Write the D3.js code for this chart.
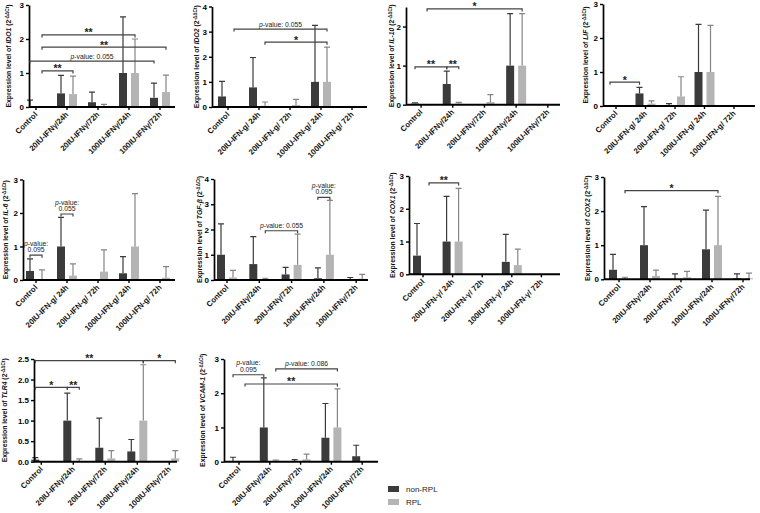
<!DOCTYPE html>
<html>
<head>
<meta charset="utf-8">
<title>Expression levels RPL vs non-RPL</title>
<style>
  body { margin: 0; background: #fff; }
  text { font-family: "Liberation Sans", Arial, sans-serif; }
</style>
</head>
<body>
<div id="chart"></div>
<script src="https://d3js.org/d3.v7.min.js"></script>
<script>
// categories
const groupsA = ["Control", "20IU-IFNγ/24h", "20IU-IFNγ/72h", "100IU-IFNγ/24h", "100IU-IFNγ/72h"];
const groupsB = ["Control", "20IU-IFN-g/ 24h", "20IU-IFN-g/ 72h", "100IU-IFN-g/ 24h", "100IU-IFN-g/ 72h"];
const groupsC = ["Control", "20IU-IFN-γ/ 24h", "20IU-IFN-γ/ 72h", "100IU-IFN-γ/ 24h", "100IU-IFN-γ/ 72h"];
const seriesNames = ["non-RPL", "RPL"];

// tick values
const ticks0to3 = [0, 1, 2, 3];
const ticks0to4 = [0, 1, 2, 3, 4];
const ticks0to2 = [0, 1, 2];
const ticksTlr4 = [0, 0.5, 1.0, 1.5, 2.0, 2.5];

// means and upper error (SD) per gene, null = not drawn
const ido1NonRpl = [0, 0.40, 0.14, 1.0, 0.27];
const ido1Rpl = [0, 0.38, 0.02, 1.0, 0.44];
const ido1NonRplErr = [0.20, 0.53, 0.30, 1.65, 0.43];
const ido1RplErr = [null, 0.53, 0.06, 1.0, 0.50];

const ido2NonRpl = [0.42, 0.78, null, 1.0, null];
const ido2Rpl = [null, 0.05, 0.08, 1.0, null];
const ido2NonRplErr = [0.60, 1.19, null, 2.25, null];
const ido2RplErr = [null, 0.15, 0.22, 1.38, null];

const il10NonRpl = [0.03, 0.53, null, 1.0, null];
const il10Rpl = [null, 0.03, 0.07, 1.0, null];
const il10NonRplErr = [0.02, 0.33, null, 1.33, null];
const il10RplErr = [null, 0.03, 0.19, 1.33, null];

const lifNonRpl = [0.01, 0.37, 0.03, 1.0, null];
const lifRpl = [0.01, 0.07, 0.28, 1.0, null];
const lifNonRplErr = [null, 0.18, 0.04, 1.40, null];
const lifRplErr = [null, 0.08, 0.58, 1.37, null];

const il6NonRpl = [0.27, 1.0, 0.01, 0.20, 0.02];
const il6Rpl = [0, 0.13, 0.25, 1.0, 0.07];
const il6NonRplErr = [0.36, 0.87, null, 0.50, null];
const il6RplErr = [0.30, 0.35, 0.65, 1.58, 0.33];

const tgfbNonRpl = [1.0, 0.63, 0.22, 0.07, 0];
const tgfbRpl = [0.10, 0, 0.60, 1.0, 0.05];
const tgfbNonRplErr = [1.22, 1.09, 0.28, 0.41, 0.10];
const tgfbRplErr = [0.28, 0.07, 1.22, 2.15, 0.17];

const cox1NonRpl = [0.57, 1.0, null, 0.38, null];
const cox1Rpl = [null, 1.0, 0.01, 0.28, 0.01];
const cox1NonRplErr = [0.98, 1.38, null, 0.84, null];
const cox1RplErr = [null, 1.62, null, 0.49, null];

const cox2NonRpl = [0.28, 1.0, 0, 0.88, 0.03];
const cox2Rpl = [0, 0.10, 0.06, 1.0, 0.03];
const cox2NonRplErr = [0.45, 1.13, 0.16, 1.15, 0.13];
const cox2RplErr = [0.06, 0.17, 0.17, 1.43, 0.15];

const tlr4NonRpl = [0.05, 1.0, 0.34, 0.25, 0.01];
const tlr4Rpl = [null, 0.02, 0.08, 1.0, 0.08];
const tlr4NonRplErr = [0.05, 0.67, 0.72, 0.29, null];
const tlr4RplErr = [null, 0.05, 0.19, 1.36, 0.19];

const vcamNonRpl = [0, 1.0, 0.01, 0.70, 0.16];
const vcamRpl = [null, 0.03, 0.07, 1.0, 0.02];
const vcamNonRplErr = [0.13, 1.45, 0.05, 1.0, 0.32];
const vcamRplErr = [null, 0.02, 0.15, 1.13, null];

// significance brackets: [group, series] -> [group, series], level in y units
const ido1Sig = [
  {a: [0, 1], b: [3, 1], level: 2.12, text: ["**"]},
  {a: [0, 1], b: [4, 1], level: 1.76, text: ["**"]},
  {a: [0, 0], b: [4, 0], level: 1.35, text: ["p-value: 0.055"]},
  {a: [0, 1], b: [1, 1], level: 1.06, text: ["**"]}
];
const ido2Sig = [
  {a: [0, 1], b: [3, 1], level: 3.1, text: ["p-value: 0.055"]},
  {a: [1, 1], b: [3, 1], level: 2.58, text: ["*"]}
];
const il10Sig = [
  {a: [0, 1], b: [3, 1], level: 2.45, text: ["*"]},
  {a: [0, 0], b: [1, 0], level: 0.97, text: ["**"]},
  {a: [1, 0], b: [1, 1], level: 0.97, text: ["**"]}
];
const lifSig = [
  {a: [0, 0], b: [1, 0], level: 0.70, text: ["*"]}
];
const il6Sig = [
  {a: [0, 0], b: [0, 1], level: 0.74, text: ["p-value:", "0.095"]},
  {a: [1, 0], b: [1, 1], level: 1.97, text: ["p-value:", "0.055"]}
];
const tgfbSig = [
  {a: [1, 1], b: [2, 1], level: 1.95, text: ["p-value: 0.055"]},
  {a: [3, 0], b: [3, 1], level: 3.27, text: ["p-value:", "0.095"]}
];
const cox1Sig = [
  {a: [0, 1], b: [1, 1], level: 2.79, text: ["**"]}
];
const cox2Sig = [
  {a: [0, 1], b: [3, 1], level: 2.6, text: ["*"]}
];
const tlr4Sig = [
  {a: [0, 0], b: [3, 1], level: 2.46, text: ["**"]},
  {a: [3, 1], b: [4, 1], level: 2.46, text: ["*"]},
  {a: [0, 0], b: [1, 0], level: 1.81, text: ["*"]},
  {a: [1, 0], b: [1, 1], level: 1.81, text: ["**"]}
];
const vcamSig = [
  {a: [0, 0], b: [1, 0], level: 2.54, text: ["p-value:", "0.095"]},
  {a: [1, 1], b: [3, 1], level: 2.71, text: ["p-value: 0.086"]},
  {a: [0, 1], b: [3, 1], level: 2.27, text: ["**"]}
];

const colors = {"non-RPL": "#3b3b3b", "RPL": "#b4b4b4"};
const errColors = {"non-RPL": "#3b3b3b", "RPL": "#858585"};

// panel layout
const panels = [
  {gene: "IDO1", groups: groupsA, vals: [ido1NonRpl, ido1Rpl], errs: [ido1NonRplErr, ido1RplErr], sig: ido1Sig,
   yMax: 3, ticks: ticks0to3, fmt: "d", axisX: 29, top: 5, zero: 107, right: 175, x0: 20.5, x1: 175.5, labelX: 9},
  {gene: "IDO2", groups: groupsB, vals: [ido2NonRpl, ido2Rpl], errs: [ido2NonRplErr, ido2RplErr], sig: ido2Sig,
   yMax: 4, ticks: ticks0to4, fmt: "d", axisX: 212, top: 6.5, zero: 107, right: 367, x0: 212.5, x1: 367.5, labelX: 197},
  {gene: "IL-10", groups: groupsA, vals: [il10NonRpl, il10Rpl], errs: [il10NonRplErr, il10RplErr], sig: il10Sig,
   yMax: 2.5, ticks: ticks0to2, fmt: "d", axisX: 406, top: 7, zero: 104.7, right: 560, x0: 405.2, x1: 563.7, labelX: 392},
  {gene: "LIF", groups: groupsB, vals: [lifNonRpl, lifRpl], errs: [lifNonRplErr, lifRplErr], sig: lifSig,
   yMax: 3, ticks: ticks0to3, fmt: "d", axisX: 603, top: 4, zero: 106, right: 755, x0: 601.25, x1: 748.75, labelX: 586},
  {gene: "IL-6", groups: groupsB, vals: [il6NonRpl, il6Rpl], errs: [il6NonRplErr, il6RplErr], sig: il6Sig,
   yMax: 3, ticks: ticks0to3, fmt: "d", axisX: 23, top: 179.5, zero: 280, right: 175, x0: 20.5, x1: 175.5, labelX: 6},
  {gene: "TGF-β", groups: groupsA, vals: [tgfbNonRpl, tgfbRpl], errs: [tgfbNonRplErr, tgfbRplErr], sig: tgfbSig,
   yMax: 4, ticks: ticks0to4, fmt: "d", axisX: 214, top: 179, zero: 280, right: 368, x0: 210.85, x1: 372.35, labelX: 200},
  {gene: "COX1", groups: groupsC, vals: [cox1NonRpl, cox1Rpl], errs: [cox1NonRplErr, cox1RplErr], sig: cox1Sig,
   yMax: 3, ticks: ticks0to3, fmt: "d", axisX: 409, top: 176, zero: 274.3, right: 560, x0: 408.2, x1: 556.2, labelX: 393},
  {gene: "COX2", groups: groupsA, vals: [cox2NonRpl, cox2Rpl], errs: [cox2NonRplErr, cox2RplErr], sig: cox2Sig,
   yMax: 3, ticks: ticks0to3, fmt: "d", axisX: 604, top: 177, zero: 279.3, right: 750, x0: 603.5, x1: 758.5, labelX: 588},
  {gene: "TLR4", groups: groupsA, vals: [tlr4NonRpl, tlr4Rpl], errs: [tlr4NonRplErr, tlr4RplErr], sig: tlr4Sig,
   yMax: 2.5, ticks: ticksTlr4, fmt: ".1f", axisX: 34, top: 359, zero: 461.7, right: 177, x0: 25.3, x1: 185.3, labelX: 5},
  {gene: "VCAM-1", groups: groupsA, vals: [vcamNonRpl, vcamRpl], errs: [vcamNonRplErr, vcamRplErr], sig: vcamSig,
   yMax: 3, ticks: ticks0to3, fmt: "d", axisX: 224, top: 359, zero: 461.7, right: 378, x0: 223.6, x1: 377.6, labelX: 203}
];

const svg = d3.select("#chart").append("svg")
  .attr("width", 760)
  .attr("height", 513)
  .style("background", "#fff");

function addText(g, str, x, y, size, bold) {
  const t = g.append("text")
    .attr("x", x).attr("y", y)
    .attr("text-anchor", "middle")
    .style("font-size", size + "px")
    .style("fill", "#222");
  if (bold) t.style("font-weight", "bold");
  if (str.startsWith("p-value")) {
    t.append("tspan").style("font-style", "italic").text("p");
    t.append("tspan").text(str.slice(1));
  } else {
    t.text(str);
  }
}

function drawPanel(p) {
  const g = svg.append("g");
  const y = d3.scaleLinear().domain([0, p.yMax]).range([p.zero, p.top]);
  const x = d3.scaleBand().domain(p.groups).range([p.x0, p.x1]);
  const mid = x.bandwidth() / 2;
  const xs = d3.scaleBand().domain(seriesNames).range([mid - 10, mid + 10]).paddingInner(1 / 3);
  const bw = xs.bandwidth();
  const barCenter = (gi, si) => x(p.groups[gi]) + xs(seriesNames[si]) + bw / 2;

  // bars
  seriesNames.forEach(function(s, si) {
    const rows = p.groups.map(function(grp, gi) {
      return {grp: grp, v: p.vals[si][gi], e: p.errs[si][gi], gi: gi};
    });
    g.selectAll(null)
      .data(rows.filter(d => d.v != null))
      .enter().append("rect")
      .attr("x", d => x(d.grp) + xs(s))
      .attr("y", d => y(d.v))
      .attr("width", bw)
      .attr("height", d => Math.max(0, y(0) - y(d.v)))
      .style("fill", colors[s]);

    const errRows = rows.filter(d => d.e != null);
    g.selectAll(null)
      .data(errRows)
      .enter().append("path")
      .attr("d", function(d) {
        const cx = barCenter(d.gi, si);
        const y0 = y(d.v || 0), y1 = y((d.v || 0) + d.e);
        return "M" + cx + "," + y0 + "V" + y1 + "M" + (cx - 3) + "," + y1 + "H" + (cx + 3);
      })
      .style("fill", "none")
      .style("stroke", errColors[s])
      .style("stroke-width", 1.2);
  });

  // y axis
  const yAxis = g.append("g")
    .attr("transform", "translate(" + p.axisX + ",0)")
    .call(d3.axisLeft(y).tickValues(p.ticks).tickSize(3).tickSizeOuter(0).tickFormat(d3.format(p.fmt)));
  yAxis.select(".domain").style("stroke-width", 1.7);
  yAxis.selectAll(".tick line").style("stroke-width", 1.4);
  yAxis.selectAll(".tick text")
    .attr("x", -5)
    .style("font-size", "8px")
    .style("font-weight", "bold")
    .style("font-family", "'Liberation Sans', Arial, sans-serif");

  // x axis line and ticks
  g.append("line")
    .attr("x1", p.axisX).attr("x2", p.right)
    .attr("y1", p.zero).attr("y2", p.zero)
    .style("stroke", "#000").style("stroke-width", 1.9);
  g.selectAll(null)
    .data(p.groups)
    .enter().append("line")
    .attr("x1", d => x(d) + mid).attr("x2", d => x(d) + mid)
    .attr("y1", p.zero).attr("y2", p.zero + 3)
    .style("stroke", "#000").style("stroke-width", 1.4);

  g.selectAll(null)
    .data(p.groups)
    .enter().append("text")
    .attr("transform", d => "translate(" + (x(d) + mid + 2) + "," + (p.zero + 8) + ") rotate(-45)")
    .attr("text-anchor", "end")
    .style("font-size", "7.8px")
    .style("font-weight", "bold")
    .style("fill", "#111")
    .text(d => d);

  // y label
  const lab = g.append("text")
    .attr("transform", "translate(" + p.labelX + "," + ((p.top + p.zero) / 2) + ") rotate(-90)")
    .attr("text-anchor", "middle")
    .attr("dy", "0.35em")
    .style("font-size", "6.8px")
    .style("font-weight", "bold")
    .style("fill", "#111");
  lab.append("tspan").text("Expression level of ");
  lab.append("tspan").style("font-style", "italic").text(p.gene);
  lab.append("tspan").text(" (2");
  lab.append("tspan").attr("baseline-shift", "super").style("font-size", "4.6px").text("-ΔΔCt");
  lab.append("tspan").text(")");

  // significance brackets
  p.sig.forEach(function(s) {
    const xa = barCenter(s.a[0], s.a[1]);
    const xb = barCenter(s.b[0], s.b[1]);
    const ly = y(s.level);
    g.append("path")
      .attr("d", "M" + xa + "," + (ly + 2.5) + "V" + ly + "H" + xb + "V" + (ly + 2.5))
      .style("fill", "none")
      .style("stroke", "#444")
      .style("stroke-width", 1.2);
    const cx = (xa + xb) / 2;
    if (s.text[0].startsWith("p-value")) {
      if (s.text.length == 2) {
        addText(g, s.text[0], cx, ly - 9.5, 6.8, false);
        addText(g, s.text[1], cx, ly - 3, 6.8, false);
      } else {
        addText(g, s.text[0], cx, ly - 2.5, 6.8, false);
      }
    } else {
      addText(g, s.text[0], cx, ly + 1.5, 10.5, true);
    }
  });
}

panels.forEach(drawPanel);

// legend
const legend = svg.append("g").attr("transform", "translate(388,486)");
legend.selectAll(null)
  .data(seriesNames)
  .enter().append("rect")
  .attr("x", 0)
  .attr("y", (d, i) => i * 13)
  .attr("width", 11)
  .attr("height", 6)
  .style("fill", d => colors[d]);
legend.selectAll(null)
  .data(seriesNames)
  .enter().append("text")
  .attr("x", 18)
  .attr("y", (d, i) => i * 13 + 6)
  .style("font-size", "8px")
  .style("fill", "#222")
  .text(d => d);
</script>
</body>
</html>
